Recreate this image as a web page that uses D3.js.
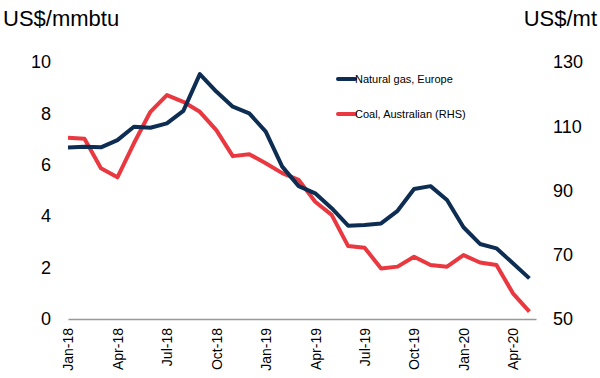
<!DOCTYPE html>
<html>
<head>
<meta charset="utf-8">
<script src="https://cdn.jsdelivr.net/npm/d3@7"></script>
<style>
  body { margin: 0; background: #fff; }
  svg { display: block; font-family: "Liberation Sans", Arial, sans-serif; }
</style>
</head>
<body>
<svg id="chart" width="600" height="378"></svg>
<script>
// monthly, Jan-18 .. May-20
const months = ["Jan-18","Feb-18","Mar-18","Apr-18","May-18","Jun-18","Jul-18","Aug-18","Sep-18","Oct-18","Nov-18","Dec-18",
                "Jan-19","Feb-19","Mar-19","Apr-19","May-19","Jun-19","Jul-19","Aug-19","Sep-19","Oct-19","Nov-19","Dec-19",
                "Jan-20","Feb-20","Mar-20","Apr-20","May-20"];
// US$/mmbtu (left)
const gasEurope = [6.67, 6.70, 6.68, 6.96, 7.48, 7.44, 7.61, 8.10, 9.53, 8.85, 8.26, 8.00,
                   7.29, 5.93, 5.17, 4.89, 4.31, 3.63, 3.66, 3.72, 4.21, 5.06, 5.17, 4.63,
                   3.57, 2.92, 2.75, 2.17, 1.58];
// US$/mt (right)
const coalAus = [106.4, 106.1, 96.9, 94.1, 104.7, 114.5, 119.7, 117.6, 114.5, 108.8, 100.7, 101.3,
                 98.5, 95.4, 93.3, 86.5, 82.4, 72.7, 72.2, 65.7, 66.3, 69.4, 66.8, 66.3,
                 69.9, 67.6, 66.8, 58.0, 52.3];
const leftTicks = [0, 2, 4, 6, 8, 10];
const rightTicks = [50, 70, 90, 110, 130];
const xTickIdx = [0, 3, 6, 9, 12, 15, 18, 21, 24, 27];

const navy = "#0d2d52", red = "#e9383f";
const svg = d3.select("#chart");

const x = d3.scaleLinear().domain([0, 28.4]).range([68, 536]);
const yL = d3.scaleLinear().domain([0, 10]).range([319, 62]);
const yR = d3.scaleLinear().domain([50, 130]).range([319, 62]);

// x axis
const xAxis = svg.append("g").attr("transform", "translate(0,319)")
  .call(d3.axisBottom(x).tickValues(xTickIdx).tickSize(0).tickFormat(i => months[i]));
xAxis.select(".domain").attr("stroke", "#999").attr("stroke-width", 1.5);
xAxis.selectAll("text")
  .attr("transform", "rotate(-90)")
  .attr("x", -9).attr("y", 0).attr("dy", "0.35em")
  .attr("text-anchor", "end")
  .attr("font-size", 14).attr("font-family", "Liberation Sans, Arial, sans-serif")
  .attr("fill", "#000");

// left axis
const lAxis = svg.append("g").attr("transform", "translate(68,0)")
  .call(d3.axisLeft(yL).tickValues(leftTicks).tickSize(0).tickPadding(17));
lAxis.select(".domain").remove();
lAxis.selectAll("text").attr("font-size", 18).attr("fill", "#000")
  .attr("font-family", "Liberation Sans, Arial, sans-serif");

// right axis
const rAxis = svg.append("g").attr("transform", "translate(536,0)")
  .call(d3.axisRight(yR).tickValues(rightTicks).tickSize(0).tickPadding(17));
rAxis.select(".domain").remove();
rAxis.selectAll("text").attr("font-size", 18).attr("fill", "#000")
  .attr("font-family", "Liberation Sans, Arial, sans-serif");

// unit titles
svg.append("text").attr("x", 3).attr("y", 26).attr("font-size", 22).text("US$/mmbtu");
svg.append("text").attr("x", 597).attr("y", 26).attr("font-size", 22)
  .attr("text-anchor", "end").text("US$/mt");

// lines
const gasLine = d3.line().x((d, i) => x(i)).y(d => yL(d));
const coalLine = d3.line().x((d, i) => x(i)).y(d => yR(d));

svg.append("path").datum(coalAus)
  .attr("fill", "none").attr("stroke", red).attr("stroke-width", 4)
  .attr("stroke-linejoin", "round").attr("d", coalLine);
svg.append("path").datum(gasEurope)
  .attr("fill", "none").attr("stroke", navy).attr("stroke-width", 4)
  .attr("stroke-linejoin", "round").attr("d", gasLine);

// legend
const legend = [
  { label: "Natural gas, Europe", color: navy, y: 79 },
  { label: "Coal, Australian (RHS)", color: red, y: 114 }
];
const lg = svg.append("g");
lg.selectAll("line").data(legend).join("line")
  .attr("x1", 338).attr("x2", 355).attr("y1", d => d.y).attr("y2", d => d.y)
  .attr("stroke", d => d.color).attr("stroke-width", 4).attr("stroke-linecap", "round");
lg.selectAll("text").data(legend).join("text")
  .attr("x", 355).attr("y", d => d.y + 4).attr("font-size", 11).attr("fill", "#000")
  .text(d => d.label);
</script>
</body>
</html>
